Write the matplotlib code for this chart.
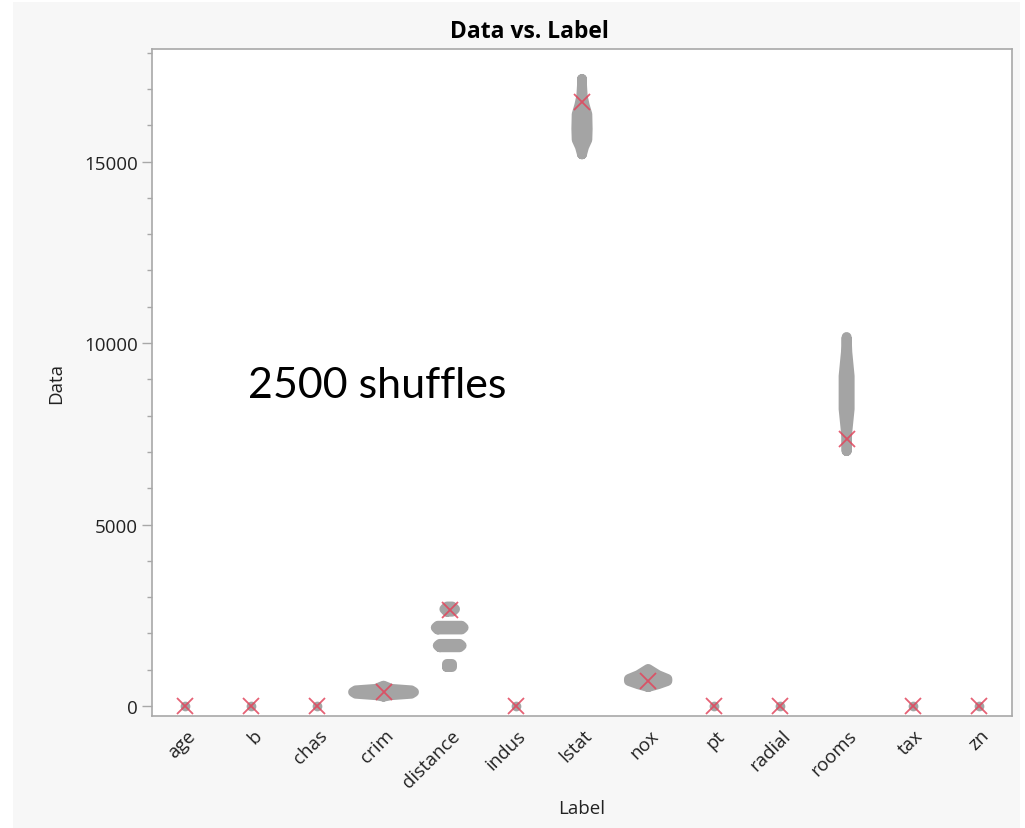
"""Permutation-importance style strip chart: 2500 shuffles per feature.

Gray clouds show the spread of the statistic over 2500 label shuffles,
red crosses mark the observed value for each feature.
"""

import matplotlib.pyplot as plt
from matplotlib.patches import Rectangle
from matplotlib.ticker import MultipleLocator
import matplotlib.transforms as mtransforms

labels = ["age", "b", "chas", "crim", "distance", "indus", "lstat",
          "nox", "pt", "radial", "rooms", "tax", "zn"]

# observed value per feature (red crosses)
observed = [0, 0, 0, 390, 2640, 0, 16640, 690, 0, 0, 7355, 0, 0]

# features whose shuffled values all sit at zero
zero_labels = ["age", "b", "chas", "indus", "pt", "radial", "tax", "zn"]

# shuffle clouds as (value levels, half width in
# category units); a feature may have several separate blobs
crim_y = [260, 300, 340, 385, 430, 470, 560]
crim_w = [0.0, 0.12, 0.42, 0.46, 0.42, 0.12, 0.0]

dist1_y = [2600, 2670, 2740]
dist1_w = [0.04, 0.08, 0.04]
dist2_y = [2110, 2160, 2210]
dist2_w = [0.18, 0.21, 0.18]
dist3_y = [1620, 1665, 1710]
dist3_w = [0.15, 0.18, 0.15]
dist4_y = [1080, 1160]
dist4_w = [0.035, 0.035]

lstat_y = [15200, 15400, 15600, 15900, 16300, 16550, 16800, 17100, 17270]
lstat_w = [0.0, 0.03, 0.08, 0.085, 0.08, 0.04, 0.01, 0.0, 0.0]

nox_y = [525, 600, 690, 745, 850, 1020]
nox_w = [0.0, 0.15, 0.29, 0.29, 0.15, 0.0]

rooms_y = [7025, 7220, 7550, 8180, 9090, 9750, 10165]
rooms_w = [0.0, 0.0, 0.01, 0.045, 0.045, 0.01, 0.0]

clouds = [
    ("crim", crim_y, crim_w),
    ("distance", dist1_y, dist1_w),
    ("distance", dist2_y, dist2_w),
    ("distance", dist3_y, dist3_w),
    ("distance", dist4_y, dist4_w),
    ("lstat", lstat_y, lstat_w),
    ("nox", nox_y, nox_w),
    ("rooms", rooms_y, rooms_w),
]

GRAY = "#a4a4a4"
RED = "#e2455c"
AXGRAY = "#a8a8a8"
INK = "#222222"
FONT = ["Open Sans", "DejaVu Sans"]


def draw_cloud(ax, xc, ys, ws):
    # outline of the blob; a thick round-joined edge gives the dot-like ends
    xs = [xc - w for w in ws] + [xc + w for w in reversed(ws)]
    yy = list(ys) + list(reversed(ys))
    ax.fill(xs, yy, facecolor=GRAY, edgecolor="none", zorder=2)
    ax.plot(xs + xs[:1], yy + yy[:1], color=GRAY, linewidth=7.2,
            solid_joinstyle="round", solid_capstyle="round", zorder=2)


def main():
    plt.rcParams["font.family"] = FONT
    fig = plt.figure(figsize=(10.25, 8.29), dpi=100, facecolor="white")
    fig.patches.append(Rectangle((13 / 1025, 0), 1007 / 1025, 826 / 829,
                                 transform=fig.transFigure,
                                 facecolor="#f7f7f7", edgecolor="none",
                                 zorder=-10))
    ax = fig.add_axes([152 / 1025, 1 - 717 / 829, 860 / 1025, 667 / 829])
    ax.set_facecolor("white")

    pos = {lab: i for i, lab in enumerate(labels)}
    for lab, ys, ws in clouds:
        draw_cloud(ax, pos[lab], ys, ws)

    zx = [pos[lab] for lab in zero_labels]
    ax.plot(zx, [0] * len(zx), "o", color=GRAY, markersize=7,
            markeredgewidth=0, zorder=2)
    ax.plot(range(len(labels)), observed, "x", color=RED, alpha=0.85,
            markersize=11, markeredgewidth=1.3, zorder=3)

    ax.set_xlim(-0.5, len(labels) - 0.5)
    ax.set_ylim(-275, 18100)
    ax.yaxis.set_major_locator(MultipleLocator(5000))
    ax.yaxis.set_minor_locator(MultipleLocator(1000))
    ax.set_xticks(range(len(labels)))
    ax.set_xticklabels([])
    # category names: rotated, top-right corner just right of each tick
    shift = mtransforms.ScaledTranslation(14 / 100, -10 / 100,
                                          fig.dpi_scale_trans)
    xform = ax.get_xaxis_transform() + shift
    for i, lab in enumerate(labels):
        ax.text(i, 0, lab, transform=xform, rotation=45, ha="right",
                va="top", fontsize=13.5, color=INK)
    ax.tick_params(axis="x", length=0)
    ax.tick_params(axis="y", which="major", length=7.2, width=1.0,
                   color=AXGRAY, labelsize=13.5, labelcolor=INK, pad=3)
    ax.tick_params(axis="y", which="minor", length=3.6, width=1.0,
                   color=AXGRAY)
    for s in ax.spines.values():
        s.set_color(AXGRAY)
        s.set_linewidth(1.2)

    ax.set_xlabel("Label", fontsize=13.5, color=INK)
    ax.set_ylabel("Data", fontsize=13.5, color=INK)
    ax.xaxis.set_label_coords(0.5, -0.124)
    ax.yaxis.set_label_coords(-0.101, 0.5)

    fig.text(529 / 1025, 1 - 32 / 829, "Data vs. Label", ha="center",
             va="center", fontsize=16.5, fontweight="bold", color="black")
    ax.text(0.1116, 0.478, "2500 shuffles", transform=ax.transAxes,
            ha="left", va="baseline", fontsize=31,
            family=["Lato", "DejaVu Sans"], color="black")

    fig.savefig("out.png", dpi=100, facecolor=fig.get_facecolor())
    plt.close(fig)


if __name__ == "__main__":
    main()
